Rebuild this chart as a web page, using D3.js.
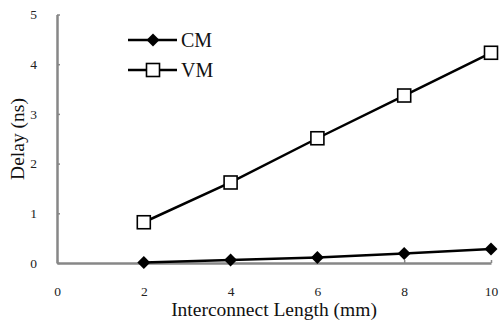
<!DOCTYPE html>
<html><head><meta charset="utf-8">
<script src="https://cdn.jsdelivr.net/npm/d3@7/dist/d3.min.js"></script>
<style>body{margin:0;background:#fff} svg text{font-family:"Liberation Serif","Times New Roman",serif !important;}</style>
</head><body>
<script>
const lengths = [2, 4, 6, 8, 10];
const cmValues = [0.01, 0.06, 0.11, 0.19, 0.28];
const vmValues = [0.82, 1.62, 2.51, 3.37, 4.23];
const xTicks = [0, 2, 4, 6, 8, 10];
const yTicks = [0, 1, 2, 3, 4, 5];

const W = 499, H = 324;
const svg = d3.select("body").append("svg").attr("width", W).attr("height", H);

const x = d3.scaleLinear().domain([0, 10]).range([57, 491]);
const y = d3.scaleLinear().domain([0, 5]).range([263, 14.5]);
const axisColor = "#878787";

// y axis
const ya = svg.append("g").attr("transform", `translate(${x(0)},0)`)
  .call(d3.axisLeft(y).tickValues(yTicks).tickSizeInner(-3).tickSizeOuter(0).tickPadding(20).tickFormat(d3.format("d")));
ya.select(".domain").attr("stroke", axisColor).attr("stroke-width", 2.5);
ya.selectAll(".tick line").attr("stroke", axisColor).attr("stroke-width", 1.5);
ya.selectAll(".tick text").attr("font-size", 13.5).attr("fill", "#222");

// x axis
const xa = svg.append("g").attr("transform", `translate(0,${y(0)})`)
  .call(d3.axisBottom(x).tickValues(xTicks).tickSizeInner(-3).tickSizeOuter(0).tickPadding(23).tickFormat(d3.format("d")));
xa.select(".domain").attr("stroke", axisColor).attr("stroke-width", 2.5);
xa.selectAll(".tick line").attr("stroke", axisColor).attr("stroke-width", 1.5);
xa.selectAll(".tick text").attr("font-size", 13.5).attr("fill", "#222");

// titles
svg.append("text").attr("x", 274).attr("y", 316).attr("text-anchor", "middle")
  .attr("font-size", 19.5).attr("fill", "#111").text("Interconnect Length (mm)");
svg.append("text").attr("transform", "translate(24,139) rotate(-90)").attr("text-anchor", "middle")
  .attr("font-size", 19.5).attr("fill", "#111").text("Delay (ns)");

const line = d3.line().x(d => x(d[0])).y(d => y(d[1]));
const cmData = lengths.map((l, i) => [l, cmValues[i]]);
const vmData = lengths.map((l, i) => [l, vmValues[i]]);

svg.append("path").datum(cmData).attr("d", line).attr("fill", "none").attr("stroke", "#000").attr("stroke-width", 2.5);
svg.append("path").datum(vmData).attr("d", line).attr("fill", "none").attr("stroke", "#000").attr("stroke-width", 2.5);

const diamond = d3.symbol().type(d3.symbolSquare).size(84);
svg.selectAll(".cm").data(cmData).enter().append("path")
  .attr("d", diamond).attr("transform", d => `translate(${x(d[0])},${y(d[1])}) rotate(45)`).attr("fill", "#000");
svg.selectAll(".vm").data(vmData).enter().append("rect")
  .attr("x", d => x(d[0]) - 6.5).attr("y", d => y(d[1]) - 6.5).attr("width", 13).attr("height", 13)
  .attr("fill", "#fff").attr("stroke", "#000").attr("stroke-width", 1.6);

// legend
const legend = [{name: "CM", yy: 40}, {name: "VM", yy: 70}];
legend.forEach((l, i) => {
  svg.append("line").attr("x1", 128).attr("x2", 177).attr("y1", l.yy).attr("y2", l.yy).attr("stroke", "#000").attr("stroke-width", 2.5);
  if (i === 0) {
    svg.append("path").attr("d", diamond).attr("transform", `translate(153,${l.yy}) rotate(45)`).attr("fill", "#000");
  } else {
    svg.append("rect").attr("x", 146.5).attr("y", l.yy - 6.5).attr("width", 13).attr("height", 13)
      .attr("fill", "#fff").attr("stroke", "#000").attr("stroke-width", 1.6);
  }
  svg.append("text").attr("x", 181).attr("y", l.yy + 7).attr("font-size", 20).attr("fill", "#111").text(l.name);
});
</script>
</body></html>
